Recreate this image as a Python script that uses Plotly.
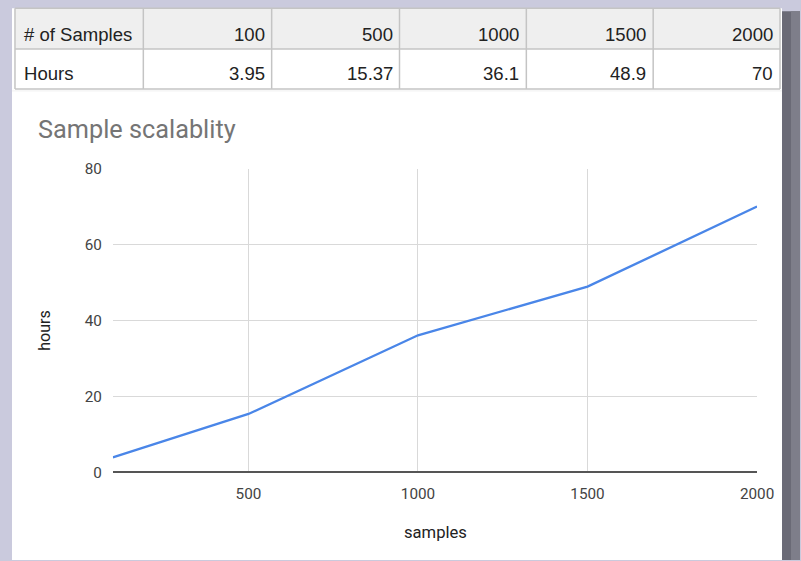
import plotly.graph_objects as go

# ---- data ----
samples = [100, 500, 1000, 1500, 2000]
hours = [3.95, 15.37, 36.1, 48.9, 70]
row_labels = ["# of Samples", "Hours"]
x_ticks = [500, 1000, 1500, 2000]
y_ticks = [0, 20, 40, 60, 80]
chart_title = "Sample scalablity"
x_title = "samples"
y_title = "hours"

# The photographed page is scaled (817x577 -> 801x561) and the figure sits 8px down;
# layout positions below are written in target-picture pixels and converted.
TW, TH = 801, 561
FW, FH = 817, 569
SX = FW / TW
SY = 577 / TH
TOP = 8


def px(x):
    return (x * SX) / FW


def py(y):
    return 1 - (y * SY - TOP) / FH


def fs(size):
    return size * SX


fig = go.Figure()
fig.add_trace(go.Scatter(
    x=samples, y=hours, mode="lines",
    line=dict(color="#4a86e8", width=fs(2.3)),
    hoverinfo="x+y", showlegend=False,
))

shapes = []
shapes.append(dict(type="rect", xref="paper", yref="paper", x0=px(12), x1=px(783), y0=0, y1=py(7),
                   fillcolor="#ffffff", line=dict(width=0), layer="below"))
shapes.append(dict(type="rect", xref="paper", yref="paper", x0=px(783), x1=1, y0=0, y1=py(10),
                   fillcolor="#6a6a76", line=dict(width=0), layer="below"))
shapes.append(dict(type="rect", xref="paper", yref="paper", x0=px(792), x1=1, y0=0, y1=py(10),
                   fillcolor="#7e7e8a", line=dict(width=0), layer="below"))

# table grid
col_edges = [15, 143.5, 272, 400, 527, 654, 781]
row_edges = [7, 48, 88]
border = "#c4c4c4"
shapes.append(dict(type="rect", xref="paper", yref="paper", x0=px(col_edges[0]), x1=px(col_edges[-1]),
                   y0=py(row_edges[1]), y1=py(row_edges[0]), fillcolor="#efefef",
                   line=dict(width=0), layer="below"))
for xe in col_edges:
    shapes.append(dict(type="line", xref="paper", yref="paper", x0=px(xe), x1=px(xe),
                       y0=py(row_edges[-1]), y1=py(row_edges[0]), line=dict(color=border, width=1.5)))
for ye in row_edges:
    shapes.append(dict(type="line", xref="paper", yref="paper", x0=px(col_edges[0]), x1=px(col_edges[-1]),
                       y0=py(ye), y1=py(ye), line=dict(color=border, width=1.5)))
shapes.append(dict(type="line", xref="paper", yref="paper", x0=px(12), x1=px(783),
                   y0=py(90), y1=py(90), line=dict(color="#f0f0f0", width=1)))

annotations = []
tfont = dict(family="Liberation Sans, Arial, sans-serif", size=fs(18.2), color="#222222")
rows = [[str(s) for s in samples], [f"{h:g}" for h in hours]]
row_mid = [33, 73]
for r, (label, vals) in enumerate(zip(row_labels, rows)):
    annotations.append(dict(text=label, x=px(col_edges[0] + 7), y=py(row_mid[r]), xref="paper",
                            yref="paper", xanchor="left", yanchor="middle", showarrow=False, font=tfont))
    for c, v in enumerate(vals):
        annotations.append(dict(text=v, x=px(col_edges[c + 2] - 5), y=py(row_mid[r]), xref="paper",
                                yref="paper", xanchor="right", yanchor="middle", showarrow=False,
                                font=tfont))

annotations.append(dict(text=chart_title, x=px(36), y=py(129), xref="paper", yref="paper",
                        xanchor="left", yanchor="middle", showarrow=False,
                        font=dict(family="Roboto, sans-serif", size=fs(24.8), color="#757575")))
annotations.append(dict(text=x_title, x=px(436), y=py(533), xref="paper", yref="paper",
                        xanchor="center", yanchor="middle", showarrow=False,
                        font=dict(family="Roboto, sans-serif", size=fs(16.3), color="#222222")))
annotations.append(dict(text=y_title, x=px(45), y=py(330), xref="paper", yref="paper",
                        xanchor="center", yanchor="middle", showarrow=False, textangle=-90,
                        font=dict(family="Roboto, sans-serif", size=fs(15.8), color="#222222")))

tickfont = dict(family="Roboto, sans-serif", size=fs(15), color="#444444")
fig.update_layout(
    width=FW, height=FH,
    margin=dict(l=0, r=0, t=0, b=0),
    paper_bgcolor="#cacadd",
    plot_bgcolor="rgba(0,0,0,0)",
    shapes=shapes,
    annotations=annotations,
    xaxis=dict(domain=[px(113), px(758)], range=[100, 2000], tickvals=x_ticks,
               showgrid=True, gridcolor="#d9d9d9", gridwidth=1, zeroline=False,
               showline=False, tickfont=tickfont, ticks="", ticklabelstandoff=10,
               fixedrange=True),
    yaxis=dict(domain=[py(473), py(168)], range=[0, 80], tickvals=y_ticks,
               showgrid=True, gridcolor="#d9d9d9", gridwidth=1, zeroline=True,
               zerolinecolor="#555555", zerolinewidth=2,
               showline=False, tickfont=tickfont, ticks="", ticklabelstandoff=10,
               fixedrange=True),
)

fig.write_html(
    "out.html",
    config={"displayModeBar": False},
    post_script=("document.body.style.margin='0';document.body.style.overflow='hidden';"
                 "document.body.style.background='#cacadd';"
                 "document.documentElement.style.background='#cacadd';"),
)
